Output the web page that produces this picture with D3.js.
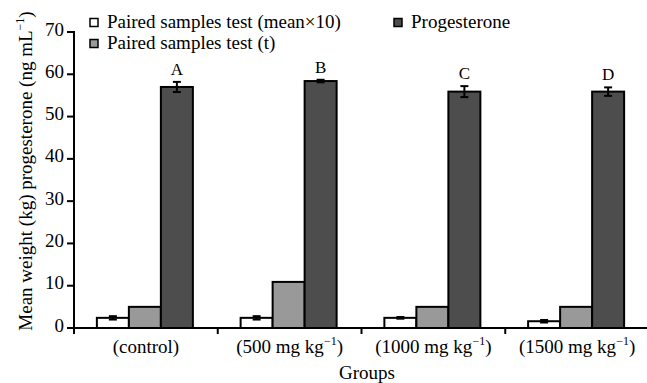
<!DOCTYPE html>
<html>
<head>
<meta charset="utf-8">
<script src="https://cdn.jsdelivr.net/npm/d3@7"></script>
<style>
  body { margin: 0; background: #fff; }
  text { font-family: "Liberation Serif", "Times New Roman", serif; fill: #000; }
</style>
</head>
<body>
<svg id="chart" width="647" height="383"></svg>
<script>
// data
var groups = ['(control)', '(500 mg kg', '(1000 mg kg', '(1500 mg kg'];
var groupSup = [false, true, true, true];
var seriesNames = ['Paired samples test (mean\u00d710)', 'Paired samples test (t)', 'Progesterone'];
var seriesColors = ['#ffffff', '#999999', '#4d4d4d'];
var meanX10 = [2.4, 2.4, 2.4, 1.6];
var meanX10Err = [0.4, 0.4, 0.2, 0.3];
var tValues = [5.0, 10.9, 5.0, 5.0];
var progesterone = [57.0, 58.4, 55.9, 55.9];
var progesteroneErr = [1.2, 0.3, 1.3, 1.0];
var letters = ['A', 'B', 'C', 'D'];
var yTicks = [0, 10, 20, 30, 40, 50, 60, 70];

var svg = d3.select( '#chart' ),
    margin = { left: 74, right: -2, top: 32, bottom: 55 },
    W = 647, H = 383,
    x0 = margin.left, x1 = W - margin.right,
    yBase = H - margin.bottom,
    fontSize = '19px',
    supSize = '12px';

var x = d3.scaleBand().domain( d3.range( groups.length ) ).range( [x0, x1] );
var xs = d3.scaleBand().domain( d3.range( 3 ) ).range( [0, 96] );
var y = d3.scaleLinear().domain( [0, 70] ).range( [yBase, margin.top] );

var barX = function ( i, si ) {
    return x( i ) + x.bandwidth() / 2 - 49 + xs( si );
};

var series = [
    { vals: meanX10, err: meanX10Err },
    { vals: tValues, err: null },
    { vals: progesterone, err: progesteroneErr }
];

// bars
series.forEach( function ( s, si ) {
    var g = svg.append( 'g' );
    g.selectAll( 'rect' )
        .data( s.vals )
        .enter()
        .append( 'rect' )
        .attr( 'x', function ( d, i ) { return barX( i, si ); } )
        .attr( 'y', function ( d ) { return y( d ); } )
        .attr( 'width', xs.bandwidth() )
        .attr( 'height', function ( d ) { return yBase - y( d ); } )
        .attr( 'fill', seriesColors[si] )
        .attr( 'stroke', '#000' )
        .attr( 'stroke-width', 2 );

    if ( s.err ) {
        s.vals.forEach( function ( v, i ) {
            var cx = barX( i, si ) + xs.bandwidth() / 2;
            var e = s.err[i];
            var eg = svg.append( 'g' ).attr( 'stroke', '#000' ).attr( 'stroke-width', 2 );
            eg.append( 'line' ).attr( 'x1', cx ).attr( 'x2', cx ).attr( 'y1', y( v - e ) ).attr( 'y2', y( v + e ) );
            eg.append( 'line' ).attr( 'x1', cx - 4 ).attr( 'x2', cx + 4 ).attr( 'y1', y( v - e ) ).attr( 'y2', y( v - e ) );
            eg.append( 'line' ).attr( 'x1', cx - 4 ).attr( 'x2', cx + 4 ).attr( 'y1', y( v + e ) ).attr( 'y2', y( v + e ) );
        } );
    }
} );

// letters over progesterone bars
svg.selectAll( 'text.letter' )
    .data( progesterone )
    .enter()
    .append( 'text' )
    .attr( 'class', 'letter' )
    .attr( 'x', function ( d, i ) { return barX( i, 2 ) + xs.bandwidth() / 2; } )
    .attr( 'y', function ( d, i ) { return y( d + progesteroneErr[i] ) - 7; } )
    .attr( 'text-anchor', 'middle' )
    .style( 'font-size', '17px' )
    .text( function ( d, i ) { return letters[i]; } );

// y axis
var yAxis = svg.append( 'g' );
yAxis.append( 'line' )
    .attr( 'x1', x0 ).attr( 'x2', x0 )
    .attr( 'y1', y( 70 ) - 1 ).attr( 'y2', yBase + 6 )
    .attr( 'stroke', '#000' ).attr( 'stroke-width', 2 );
yAxis.selectAll( 'line.tick' )
    .data( yTicks )
    .enter()
    .append( 'line' )
    .attr( 'class', 'tick' )
    .attr( 'x1', x0 - 7 ).attr( 'x2', x0 )
    .attr( 'y1', function ( d ) { return y( d ); } )
    .attr( 'y2', function ( d ) { return y( d ); } )
    .attr( 'stroke', '#000' ).attr( 'stroke-width', 2 );
yAxis.selectAll( 'text' )
    .data( yTicks )
    .enter()
    .append( 'text' )
    .attr( 'x', x0 - 10 )
    .attr( 'y', function ( d ) { return y( d ) + 3.5; } )
    .attr( 'text-anchor', 'end' )
    .style( 'font-size', fontSize )
    .text( function ( d ) { return d; } );

// x axis
var xAxis = svg.append( 'g' );
xAxis.append( 'line' )
    .attr( 'x1', x0 ).attr( 'x2', W )
    .attr( 'y1', yBase ).attr( 'y2', yBase )
    .attr( 'stroke', '#000' ).attr( 'stroke-width', 2 );
xAxis.selectAll( 'line.tick' )
    .data( d3.range( 1, groups.length ) )
    .enter()
    .append( 'line' )
    .attr( 'class', 'tick' )
    .attr( 'x1', function ( d ) { return x( d ); } )
    .attr( 'x2', function ( d ) { return x( d ); } )
    .attr( 'y1', yBase ).attr( 'y2', yBase + 6 )
    .attr( 'stroke', '#000' ).attr( 'stroke-width', 2 );
var xl = xAxis.selectAll( 'text' )
    .data( groups )
    .enter()
    .append( 'text' )
    .attr( 'x', function ( d, i ) { return x( i ) + x.bandwidth() / 2; } )
    .attr( 'y', yBase + 25 )
    .attr( 'text-anchor', 'middle' )
    .style( 'font-size', fontSize );
xl.append( 'tspan' ).text( function ( d ) { return d; } );
xl.each( function ( d, i ) {
    if ( groupSup[i] ) {
        var t = d3.select( this );
        t.append( 'tspan' ).attr( 'dy', -8 ).style( 'font-size', supSize ).text( '\u22121' );
        t.append( 'tspan' ).attr( 'dy', 8 ).text( ')' );
    }
} );

svg.append( 'text' )
    .attr( 'x', 367 ).attr( 'y', 379 )
    .attr( 'text-anchor', 'middle' )
    .style( 'font-size', fontSize )
    .text( 'Groups' );

// y title
var yt = svg.append( 'text' )
    .attr( 'transform', 'translate(32,171) rotate(-90)' )
    .attr( 'text-anchor', 'middle' )
    .style( 'font-size', fontSize );
yt.append( 'tspan' ).text( 'Mean weight (kg) progesterone (ng mL' );
yt.append( 'tspan' ).attr( 'dy', -8 ).style( 'font-size', supSize ).text( '\u22121' );
yt.append( 'tspan' ).attr( 'dy', 8 ).text( ')' );

// legend
var legendPos = [[90, 22.5], [90, 43.5], [394, 22.5]];
var legend = svg.append( 'g' );
seriesNames.forEach( function ( n, i ) {
    legend.append( 'rect' )
        .attr( 'x', legendPos[i][0] ).attr( 'y', legendPos[i][1] - 4 )
        .attr( 'width', 8 ).attr( 'height', 8 )
        .attr( 'fill', seriesColors[i] )
        .attr( 'stroke', '#000' ).attr( 'stroke-width', 1.5 );
    legend.append( 'text' )
        .attr( 'x', legendPos[i][0] + 17 ).attr( 'y', legendPos[i][1] + 5.5 )
        .style( 'font-size', fontSize )
        .text( n );
} );
</script>
</body>
</html>
